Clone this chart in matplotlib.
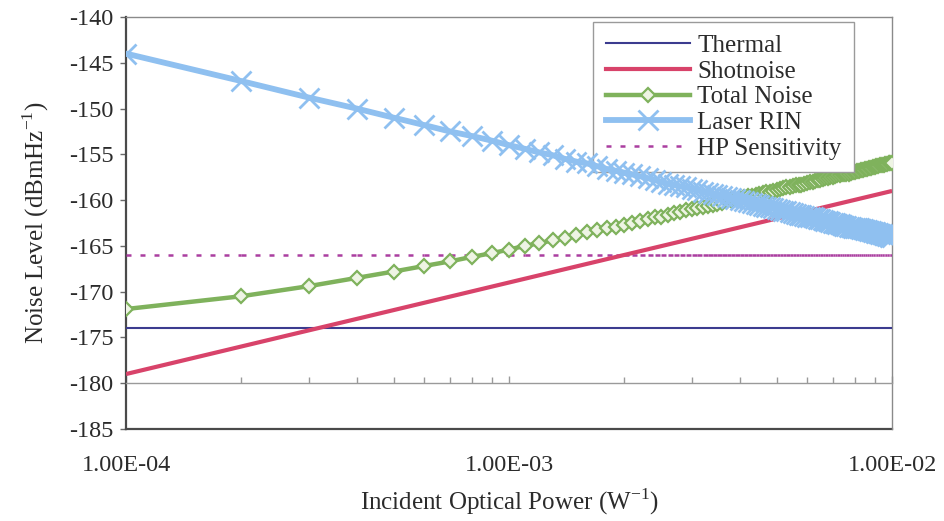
import matplotlib
matplotlib.use("Agg")
import matplotlib.pyplot as plt
from matplotlib.lines import Line2D
from matplotlib.collections import LineCollection

plt.rcParams['font.family'] = ['Liberation Serif', 'DejaVu Serif']
plt.rcParams['mathtext.fontset'] = 'custom'
plt.rcParams['mathtext.rm'] = 'Liberation Serif'
plt.rcParams['axes.unicode_minus'] = False

# ---------------- data ----------------
# incident optical power, 1e-4 ... 1e-2 W in 1e-4 steps
power = [round(k * 1e-4, 4) for k in range(1, 101)]

thermal_x = [1e-4, 1e-2]
thermal = [-174.0, -174.0]

shot_x = [1e-4, 1e-3, 1e-2]
shotnoise = [-179.0, -169.0, -159.0]

total_noise = [
    -171.9, -170.5, -169.4, -168.5, -167.8, -167.2, -166.7, -166.2, -165.8, -165.4,
    -165.0, -164.7, -164.4, -164.1, -163.8, -163.5, -163.3, -163.1, -162.9, -162.7,
    -162.5, -162.3, -162.1, -161.9, -161.8, -161.6, -161.4, -161.3, -161.1, -161.0,
    -160.9, -160.7, -160.6, -160.5, -160.4, -160.3, -160.1, -160.0, -159.9, -159.8,
    -159.7, -159.6, -159.5, -159.4, -159.3, -159.2, -159.1, -159.1, -159.0, -158.9,
    -158.8, -158.7, -158.6, -158.6, -158.5, -158.4, -158.3, -158.3, -158.2, -158.1,
    -158.0, -158.0, -157.9, -157.8, -157.8, -157.7, -157.6, -157.6, -157.5, -157.5,
    -157.4, -157.3, -157.3, -157.2, -157.2, -157.1, -157.1, -157.0, -156.9, -156.9,
    -156.8, -156.8, -156.7, -156.7, -156.6, -156.6, -156.5, -156.5, -156.4, -156.4,
    -156.3, -156.3, -156.2, -156.2, -156.2, -156.1, -156.1, -156.0, -156.0, -155.9,
]

laser_rin = [
    -144.0, -147.0, -148.8, -150.0, -151.0, -151.8, -152.5, -153.0, -153.5, -154.0,
    -154.4, -154.8, -155.1, -155.5, -155.8, -156.0, -156.3, -156.6, -156.8, -157.0,
    -157.2, -157.4, -157.6, -157.8, -158.0, -158.2, -158.3, -158.5, -158.6, -158.8,
    -158.9, -159.1, -159.2, -159.3, -159.4, -159.6, -159.7, -159.8, -159.9, -160.0,
    -160.1, -160.2, -160.3, -160.4, -160.5, -160.6, -160.7, -160.8, -160.9, -161.0,
    -161.1, -161.2, -161.2, -161.3, -161.4, -161.5, -161.6, -161.6, -161.7, -161.8,
    -161.9, -161.9, -162.0, -162.1, -162.1, -162.2, -162.3, -162.3, -162.4, -162.5,
    -162.5, -162.6, -162.6, -162.7, -162.8, -162.8, -162.9, -162.9, -163.0, -163.0,
    -163.1, -163.1, -163.2, -163.2, -163.3, -163.3, -163.4, -163.4, -163.5, -163.5,
    -163.6, -163.6, -163.7, -163.7, -163.8, -163.8, -163.9, -163.9, -164.0, -164.0,
]

hp_sensitivity = [-166.0] * len(power)

series_labels = ["Thermal", "Shotnoise", "Total Noise", "Laser RIN", "HP Sensitivity"]
x_tick_values = [1e-4, 1e-3, 1e-2]
x_tick_labels = ["1.00E-04", "1.00E-03", "1.00E-02"]
y_ticks = [-185, -180, -175, -170, -165, -160, -155, -150, -145, -140]

# ---------------- style ----------------
c_thermal = "#3b3b8f"
c_shot = "#d8436a"
c_total = "#7fb25c"
c_rin = "#8fc0f0"
c_hp = "#ab3ea0"
txt = "#2b2b2b"
FS_TICK = 17.5
FS_LAB = 18
FS_LEG = 18

fig = plt.figure(figsize=(9.44, 5.21), dpi=100)
ax = fig.add_axes([0.1335, 0.1766, 0.8115, 0.7908])
ax.set_xscale('log')
ax.set_xlim(1e-4, 1e-2)
ax.set_ylim(-185, -140)

ax.plot(thermal_x, thermal, color=c_thermal, lw=1.5, zorder=3)
ax.plot(shot_x, shotnoise, color=c_shot, lw=3.0, zorder=4, solid_capstyle='butt')

# HP sensitivity: each segment dashed independently (Excel-like)
hp_lw = 1.8
hp_ls = (0, (2.0, 3.6))
segs = [[(power[i], hp_sensitivity[i]), (power[i + 1], hp_sensitivity[i + 1])]
        for i in range(len(power) - 1)]
lc = LineCollection(segs, colors=c_hp, linewidths=hp_lw, linestyles=[hp_ls], zorder=3.5)
ax.add_collection(lc)

mk_total = dict(marker='D', ms=7, mew=1.6, mfc='#eef4e4', mec=c_total)
mk_rin = dict(marker='x', ms=14, mew=2.0, mec=c_rin)
ax.plot(power, total_noise, color=c_total, lw=3.2, zorder=5, **mk_total)
ax.plot(power, laser_rin, color=c_rin, lw=4.2, zorder=6, **mk_rin)

# axes frame
for s in ['top', 'right']:
    ax.spines[s].set_color('#8a8a8a')
    ax.spines[s].set_linewidth(1.0)
ax.spines['left'].set_color('#4a4a4a')
ax.spines['left'].set_linewidth(1.6)
ax.spines['bottom'].set_position(('data', -180))
ax.spines['bottom'].set_color('#9a9a9a')
ax.spines['bottom'].set_linewidth(1.0)
ax.axhline(-185, color='#4a4a4a', lw=1.6, clip_on=False, zorder=2)

ax.set_yticks(y_ticks)
ax.tick_params(axis='y', direction='out', length=4, width=1, color='#6a6a6a',
               labelsize=FS_TICK, labelcolor=txt, pad=5)
ax.set_xticks(x_tick_values, labels=x_tick_labels)
ax.tick_params(axis='x', which='major', direction='in', length=5, width=1,
               color='#9a9a9a', labelsize=FS_TICK, labelcolor=txt, pad=52)
ax.tick_params(axis='x', which='minor', direction='in', length=4, width=1,
               color='#9a9a9a')
ax.xaxis.set_minor_formatter(matplotlib.ticker.NullFormatter())

ax.set_ylabel(r"Noise Level (dBmHz$^{\mathregular{-1}}$)", fontsize=FS_LAB, color=txt)
ax.yaxis.set_label_coords(-0.098, 0.5)
ax.set_xlabel(r"Incident Optical Power (W$^{\mathregular{-1}}$)", fontsize=FS_LAB, color=txt)
ax.xaxis.set_label_coords(0.5, -0.14)

handles = [
    Line2D([], [], color=c_thermal, lw=1.5),
    Line2D([], [], color=c_shot, lw=3.0),
    Line2D([], [], color=c_total, lw=3.2, **mk_total),
    Line2D([], [], color=c_rin, lw=4.2, **mk_rin),
    Line2D([], [], color=c_hp, lw=hp_lw, ls=hp_ls),
]
leg = ax.legend(handles, series_labels, loc='upper left', bbox_to_anchor=(0.610, 0.988),
                borderaxespad=0, fontsize=FS_LEG, handlelength=3.35, handletextpad=0.3,
                labelspacing=0.13, borderpad=0.5, numpoints=1, frameon=True,
                fancybox=False, framealpha=1, edgecolor='#9a9a9a')
leg.get_frame().set_linewidth(1.0)
for t in leg.get_texts():
    t.set_color(txt)

fig.savefig("out.png", dpi=100, facecolor='white')
